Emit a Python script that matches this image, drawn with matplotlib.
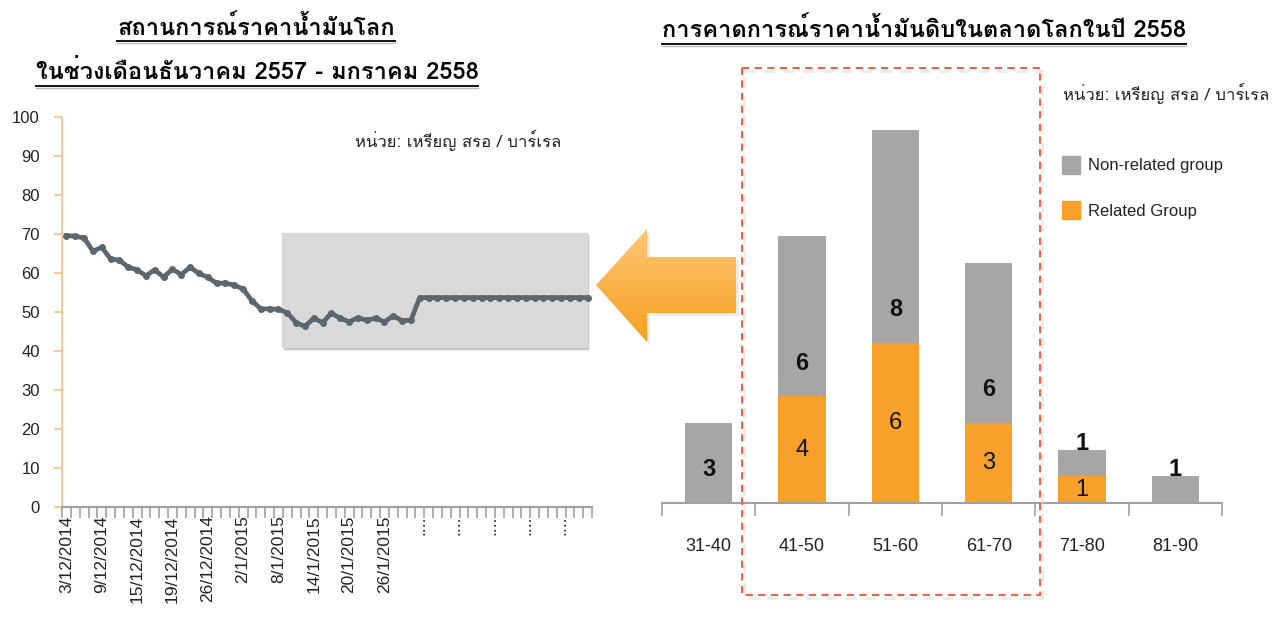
import numpy as np
import matplotlib
matplotlib.use('Agg')
import matplotlib.pyplot as plt
from matplotlib import font_manager as fm
from matplotlib.ft2font import FT2Font
from matplotlib.patches import Rectangle, Polygon, Patch
from matplotlib.colors import LinearSegmentedColormap

# ---- data ----
prices = [69.6, 69.4, 69.0, 65.6, 66.6, 63.6, 63.3, 61.5, 60.8, 59.3,
          60.8, 58.9, 61.0, 59.6, 61.5, 59.9, 58.9, 57.4, 57.4, 56.9,
          55.9, 52.9, 50.8, 50.8, 50.7, 49.8, 47.3, 46.3, 48.4, 47.3,
          49.7, 48.4, 47.5, 48.5, 47.9, 48.4, 47.5, 49.0, 47.8, 47.9,
          53.7, 53.7, 53.7, 53.7, 53.7, 53.7, 53.7, 53.7, 53.7, 53.7,
          53.7, 53.7, 53.7, 53.7, 53.7, 53.7, 53.7, 53.7, 53.7, 53.7]
date_labels = ['3/12/2014', '9/12/2014', '15/12/2014', '19/12/2014', '26/12/2014',
               '2/1/2015', '8/1/2015', '14/1/2015', '20/1/2015', '26/1/2015',
               '....', '....', '....', '....', '....']
yticks_left = [0, 10, 20, 30, 40, 50, 60, 70, 80, 90, 100]

ranges = ['31-40', '41-50', '51-60', '61-70', '71-80', '81-90']
related = [0, 4, 6, 3, 1, 0]
non_related = [3, 6, 8, 6, 1, 1]

title_left1 = 'สถานการณ์ราคาน้ำมันโลก'
title_left2 = 'ในช่วงเดือนธันวาคม 2557 - มกราคม 2558'
title_right = 'การคาดการณ์ราคาน้ำมันดิบในตลาดโลกในปี 2558'
unit_text = 'หน่วย: เหรียญ สรอ / บาร์เรล'


def thai_family():
    for f in fm.fontManager.ttflist:
        try:
            if 0x0E01 in FT2Font(f.fname).get_charmap():
                return f.name
        except Exception:
            continue
    return 'DejaVu Sans'


THAI = [thai_family(), 'Liberation Sans', 'DejaVu Sans']
plt.rcParams['font.family'] = ['Liberation Sans', 'DejaVu Sans']

W, H = 1288, 621
fig = plt.figure(figsize=(W / 100, H / 100), dpi=100)


def box(x0, y0, x1, y1):
    return [x0 / W, 1 - y1 / H, (x1 - x0) / W, (y1 - y0) / H]


# ---- left: price line ----
ax1 = fig.add_axes(box(62, 117, 592, 507))
x = np.arange(len(prices))
ax1.add_patch(Rectangle((24.6, 40.4), 34.5, 29.3, color='#c4c4c4', zorder=1))
ax1.add_patch(Rectangle((24.4, 41.0), 34.5, 29.3, color='#d9d9d9', zorder=1))
ax1.plot(x, prices, color='#5b6770', lw=3.4, marker='o', ms=4, zorder=3)
ax1.set_xlim(-0.5, len(prices) - 0.5)
ax1.set_ylim(0, 100)
ax1.set_yticks(yticks_left)
ax1.set_xticks(np.arange(-0.5, len(prices), 1))
ax1.set_xticklabels([])
ax1.set_xticks(np.arange(0, len(prices), 4), minor=True)
ax1.set_xticklabels(date_labels, minor=True, rotation=90, fontsize=12.5, va='top')
ax1.tick_params(axis='x', which='major', length=8, width=1.2, color='#a0a0a0')
ax1.tick_params(axis='x', which='minor', length=0, pad=6, labelcolor='#222222')
ax1.tick_params(axis='y', length=6, width=1.2, color='#f9c08c', pad=10,
                labelsize=12, labelcolor='#222222')
for s in ['top', 'right']:
    ax1.spines[s].set_visible(False)
ax1.spines['left'].set_color('#f9c08c')
ax1.spines['left'].set_linewidth(1.2)
ax1.spines['bottom'].set_color('#a0a0a0')
ax1.spines['bottom'].set_linewidth(1.5)

fig.text(355 / W, 1 - 140 / H, unit_text, ha='left', va='center', fontsize=12,
         family=THAI, color='#222222')

# ---- right: stacked bars ----
ax2 = fig.add_axes(box(662, 117, 1222, 503))
xb = np.arange(len(ranges))
ax2.bar(xb, related, 0.51, color='#f7a12a', zorder=2)
ax2.bar(xb, non_related, 0.51, bottom=related, color='#a6a6a6', zorder=2)
for i in range(len(ranges)):
    if related[i]:
        ax2.text(xb[i], related[i] / 2, str(related[i]), ha='center', va='center',
                 fontsize=17, color='#111111', zorder=3)
    ax2.text(xb[i], related[i] + 1.25, str(non_related[i]), ha='center', va='center',
             fontsize=17, weight='bold', color='#111111', zorder=3)
ax2.set_xlim(-0.5, len(ranges) - 0.5)
ax2.set_ylim(0, 14.48)
ax2.set_yticks([])
ax2.set_xticks(np.arange(-0.5, len(ranges), 1))
ax2.set_xticklabels([])
ax2.set_xticks(xb, minor=True)
ax2.set_xticklabels(ranges, minor=True, fontsize=13)
ax2.tick_params(axis='x', which='major', length=9, width=1.2, color='#a0a0a0')
ax2.tick_params(axis='x', which='minor', length=0, pad=25, labelcolor='#222222')
for s in ['top', 'right', 'left']:
    ax2.spines[s].set_visible(False)
ax2.spines['bottom'].set_color('#a0a0a0')
ax2.spines['bottom'].set_linewidth(1.5)

handles = [Patch(color='#a6a6a6'), Patch(color='#f7a12a')]
fig.legend(handles, ['Non-related group', 'Related Group'], loc='upper left',
           bbox_to_anchor=(1047 / W, 1 - 141 / H), frameon=False, fontsize=12,
           handlelength=1.05, handleheight=1.25, handletextpad=0.5, labelspacing=1.65,
           labelcolor='#222222')

fig.text(1063 / W, 1 - 93 / H, unit_text, ha='left', va='center', fontsize=12,
         family=THAI, color='#222222')

# ---- titles ----
t1 = fig.text(256 / W, 1 - 28 / H, title_left1, ha='center', va='center',
              fontsize=17, weight='bold', family=THAI)
t2 = fig.text(257 / W, 1 - 72 / H, title_left2, ha='center', va='center',
              fontsize=17, weight='bold', family=THAI)
t3 = fig.text(924 / W, 1 - 30 / H, title_right, ha='center', va='center',
              fontsize=17, weight='bold', family=THAI)

# ---- overlay in pixel coordinates: arrow, dashed frame, underlines ----
ov = fig.add_axes([0, 0, 1, 1])
ov.set_xlim(0, W)
ov.set_ylim(H, 0)
ov.axis('off')
ov.patch.set_alpha(0)

ov.add_patch(Rectangle((744, 71), 298, 527, fill=False, ec='#d8d8d8', lw=2, alpha=0.5,
                       ls=(0, (4, 3))))
ov.add_patch(Rectangle((742, 68), 298, 527, fill=False, ec='#f4512c', lw=1.3,
                       ls=(0, (4, 3))))

arrow_pts = [(596, 285), (647, 229), (647, 257), (736, 257), (736, 313),
             (647, 313), (647, 342)]
shadow = Polygon([(px + 3, py + 3) for px, py in arrow_pts], closed=True,
                 color='#d0d0d0', alpha=0.4, lw=0, zorder=1)
ov.add_patch(shadow)
arrow = Polygon(arrow_pts, closed=True, fc='none', ec='none', zorder=2)
ov.add_patch(arrow)
grad = np.linspace(0, 1, 100).reshape(-1, 1)
cmap = LinearSegmentedColormap.from_list('orng', ['#fdc676', '#f7a01e'])
im = ov.imshow(grad, extent=(596, 736, 342, 229), cmap=cmap, aspect='auto', zorder=3)
im.set_clip_path(arrow)
ov.set_xlim(0, W)
ov.set_ylim(H, 0)

fig.canvas.draw()
r = fig.canvas.get_renderer()
for t, yl in ((t1, 41), (t2, 86), (t3, 44)):
    bb = t.get_window_extent(r)
    ov.plot([bb.x0, bb.x1], [yl, yl], color='#111111', lw=1.4)
    ov.plot([bb.x0, bb.x1], [yl + 2, yl + 2], color='#bbbbbb', lw=1.0)

fig.savefig('out.png', dpi=100)
